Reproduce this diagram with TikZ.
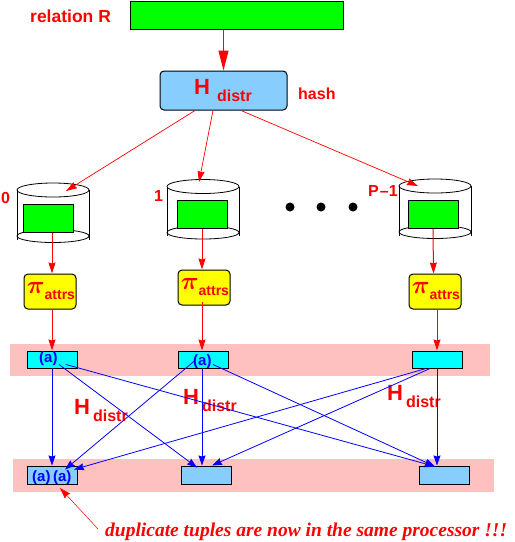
\documentclass[tikz,border=0pt]{standalone}
\usepackage{fontspec}
\setmainfont{Liberation Sans}
\newfontfamily\capfont{Liberation Serif}
\usetikzlibrary{arrows.meta,calc}
\definecolor{bandpink}{RGB}{255,192,192}
\definecolor{hashblue}{RGB}{135,206,255}
\definecolor{relgreen}{RGB}{0,255,0}
\definecolor{tupcyan}{RGB}{0,255,255}
\definecolor{piyellow}{RGB}{255,255,0}

\newcommand{\hdistr}[1]{{\fontsize{22}{22}\selectfont\bfseries H}\kern#1\raisebox{-7pt}{\fontsize{16}{16}\selectfont\bfseries distr}}
\newcommand{\piattrs}{\makebox[50pt][r]{{\fontsize{23}{23}\selectfont\boldmath$\pi$}\raisebox{-6pt}{\fontsize{14}{14}\selectfont\bfseries attrs}}}

\tikzset{
  box/.style={draw=black, line width=1pt, inner sep=0pt, minimum height=#1},
  pibox/.style={box=35pt, fill=piyellow, minimum width=52pt, rounded corners=4pt, text=red},
  srcbox/.style={box=17pt, fill=tupcyan, minimum width=50pt},
  dstbox/.style={box=18pt, fill=hashblue, minimum width=50pt},
  band/.style={fill=bandpink, inner sep=0pt},
  redtext/.style={text=red, inner sep=0pt, anchor=base west},
  tuple/.style={text=blue, inner sep=0pt, anchor=base west, font=\fontsize{15}{15}\selectfont\bfseries},
  bigred/.style={red, line width=1pt, -{Stealth[length=20pt,width=10pt,inset=0pt]}},
  redline/.style={red, line width=1pt, -{Stealth[length=11pt,width=7pt,inset=1pt]}},
  fanred/.style={red, line width=.7pt, -{Stealth[length=11pt,width=7pt,inset=1pt]}},
  blueline/.style={blue, line width=.8pt, -{Stealth[length=10pt,width=7pt,inset=1pt]}},
  blueup/.style={blue, line width=1pt, -{Stealth[length=10pt,width=7pt,inset=1pt]}},
}

\begin{document}
\begin{tikzpicture}[x=1pt,y=-1pt]
\useasboundingbox (0,0) rectangle (515,542);

%bands behind the tuple boxes
\node[band, minimum width=480pt, minimum height=32pt] (bandsrc) at (250,360) {};
\node[band, minimum width=481pt, minimum height=33pt] (banddst) at (253.5,475.5) {};

%disks
\foreach \cx/\top in {53/183, 203/179.5, 435/179} {
  \draw[line width=.8pt] (\cx,\top+7) ellipse (36 and 7);
  \draw[line width=.8pt] (\cx,\top+53) ellipse (36 and 6.5);
  \draw[line width=.8pt] (\cx-36,\top+7) -- (\cx-36,\top+56.5);
  \draw[line width=.8pt] (\cx+36,\top+7) -- (\cx+36,\top+56.5);
}

%relation and hash function
\node[box=28pt, fill=relgreen, minimum width=213pt] (relation) at (236.5,15) {};
\node[box=39pt, fill=hashblue, minimum width=127pt, rounded corners=4pt] (hash) at (223.5,90.5) {};
\node[redtext, font=\fontsize{17.5}{18}\selectfont\bfseries] (relname) at (30,22) {relation R};
\node[redtext] (hashH) at (194,94) {\hdistr{7pt}};
\node[redtext, font=\fontsize{16}{16}\selectfont\bfseries] (hashname) at (298,99) {hash};

%fragments on the disks
\node[box=28pt, fill=relgreen, minimum width=50pt] (frag0) at (48,218) {};
\node[box=28pt, fill=relgreen, minimum width=50pt] (frag1) at (202,214) {};
\node[box=28pt, fill=relgreen, minimum width=50pt] (frag2) at (433,214) {};
\node[redtext, font=\fontsize{16}{16}\selectfont\bfseries] (num0) at (1,203) {0};
\node[redtext, font=\fontsize{16}{16}\selectfont\bfseries] (num1) at (154,201) {1};
\node[redtext, font=\fontsize{16}{16}\selectfont\bfseries] (num2) at (368,196) {P\kern1pt--1};

\fill (290,207) circle (4.5) (321,207) circle (4.5) (353,207) circle (4.5);

%projections
\node[pibox] (pi0) at (50,291.5) {\piattrs};
\node[pibox] (pi1) at (204,287.5) {\piattrs};
\node[pibox] (pi2) at (435,291.5) {\piattrs};

%tuple boxes
\node[srcbox] (src0) at (52,359.5) {};
\node[srcbox] (src1) at (203,359.5) {};
\node[srcbox] (src2) at (437,359.5) {};
\node[dstbox] (dst0) at (52,475) {};
\node[dstbox] (dst1) at (206,475) {};
\node[dstbox] (dst2) at (444,475) {};
\node[tuple] (tup0) at (39,362) {(a)};
\node[tuple] (tup1) at (193,365) {(a)};
\node[tuple] (tup2) at (32,481) {(a)\kern2.5pt(a)};

\node[redtext] (lab0) at (74,414) {\hdistr{3pt}};
\node[redtext] (lab1) at (183,404) {\hdistr{3pt}};
\node[redtext] (lab2) at (387,400) {\hdistr{3pt}};

\node[redtext, font=\capfont\fontsize{19.5}{19.5}\selectfont\bfseries\itshape] (dupnote) at (105,536) {duplicate tuples are now in the same processor !!!};

%free ends
\coordinate (tip0) at (66,191);
\coordinate (tip1) at (199,182);
\coordinate (tip2) at (418,186);
\coordinate (dupstart) at (98,529);
\coordinate (duptip) at (60,488);

\draw[bigred] (relation.south -| hash.north) -- (hash.north);

%edges from the hash function
\draw[fanred] ([xshift=-28.5pt]hash.south) -- (tip0);
\draw[fanred] ([xshift=-10.5pt]hash.south) -- (tip1);
\draw[fanred] ([xshift=17.5pt]hash.south) -- (tip2);

%edges through the projections
\draw[redline] ([xshift=4pt]frag0.south) -- ([xshift=2pt]pi0.north);
\draw[redline] (frag1.south) -- ([xshift=-2pt]pi1.north);
\draw[redline] (frag2.south) -- ([xshift=-1.5pt]pi2.north);
\draw[redline] ([xshift=2pt]pi0.south) -- (src0.north);
\draw[redline] ([xshift=-2pt,yshift=4pt]pi1.south) -- ([xshift=-1pt]src1.north);
\draw[redline] ([xshift=2pt]pi2.south) -- (src2.north);

%vertical redistribution
\draw[blueup] (src0.south) -- (dst0.north);
\draw[blueup] ([xshift=-1pt]src1.south) -- ([xshift=-4pt]dst1.north);
\draw[blueup] (src2.south) -- ([xshift=-7pt]dst2.north);

%crossing redistribution
\draw[blueline] ([xshift=7pt,yshift=4pt]src0.south) -- ([xshift=-9pt,yshift=-2pt]dst1.north);
\draw[blueline] ([xshift=14pt,yshift=4pt]src0.south) -- ([xshift=-9pt,yshift=-1pt]dst2.north);
\draw[blueline] ([xshift=-8pt,yshift=8pt]src1.south) -- ([xshift=13pt,yshift=-4pt]dst0.north);
\draw[blueline] ([xshift=10pt,yshift=4pt]src1.south) -- ([xshift=-9pt,yshift=-1pt]dst2.north);
\draw[blueline] ([xshift=-11pt]src2.south) -- ([xshift=22pt,yshift=-4pt]dst0.north);
\draw[blueline] ([xshift=-7pt]src2.south) -- ([xshift=6pt]dst1.north);

\draw[red, line width=.5pt, -{Stealth[length=11pt,width=7pt,inset=1pt]}] (dupstart) -- (duptip);
\end{tikzpicture}
\end{document}
